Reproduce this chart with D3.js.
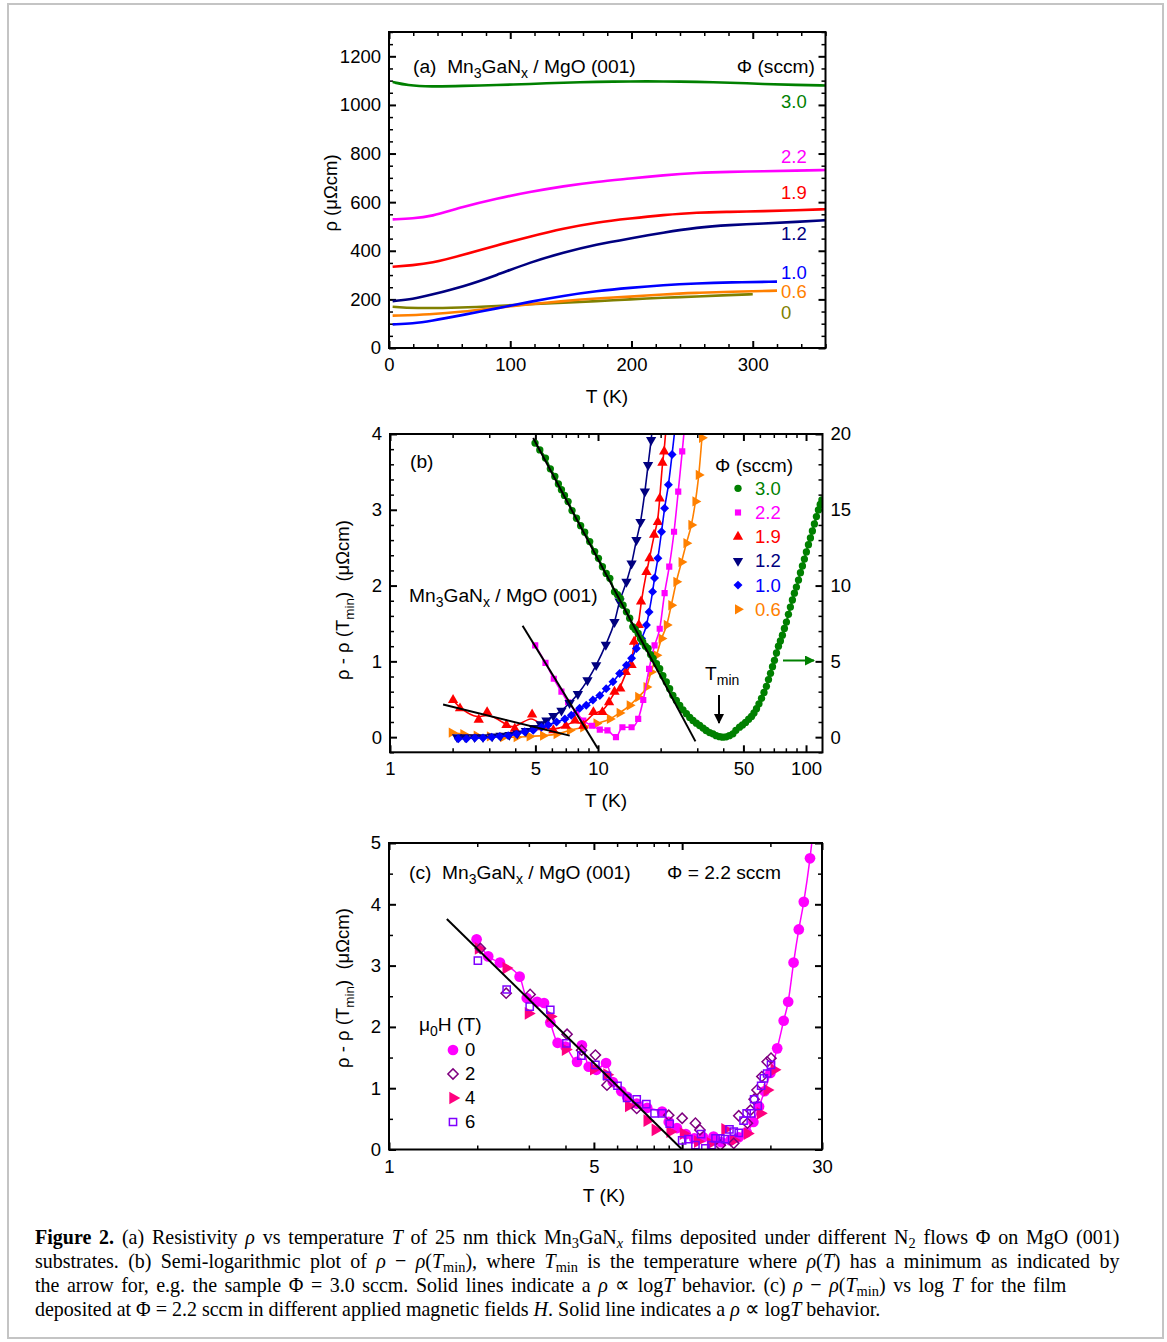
<!DOCTYPE html>
<html>
<head>
<meta charset="utf-8">
<script src="https://cdn.jsdelivr.net/npm/d3@7/dist/d3.min.js"></script>
<style>
html, body { margin: 0; padding: 0; background: #fff; }
#wrap { position: relative; width: 1167px; height: 1342px; overflow: hidden; background: #fff; }
#fig { position: absolute; left: 0; top: 0; }
#fig text { font-family: "Liberation Sans", Arial, Helvetica, sans-serif; fill: #000; }
.cap { position: absolute; left: 35px; width: 1166px; font-family: "Liberation Serif", "Times New Roman", serif;
       font-size: 21.5px; line-height: 24px; color: #000; text-align: justify; text-align-last: justify; white-space: nowrap;
       transform: scaleX(0.93); transform-origin: 0 0; }
.cap.short { width: 1109px; }
.cap.last { text-align-last: left; }
.cap .s { font-size: 0.72em; position: relative; top: 0.28em; line-height: 0; }
</style>
</head>
<body>
<div id="wrap">
<svg id="fig" width="1167" height="1342"></svg>
<div class="cap" style="top:1225px"><b>Figure 2.</b> (a) Resistivity <i>ρ</i> vs temperature <i>T</i> of 25 nm thick Mn<span class="s">3</span>GaN<span class="s"><i>x</i></span> films deposited under different N<span class="s">2</span> flows Φ on MgO (001)</div>
<div class="cap" style="top:1249px">substrates. (b) Semi-logarithmic plot of <i>ρ</i> − <i>ρ</i>(<i>T</i><span class="s">min</span>), where <i>T</i><span class="s">min</span> is the temperature where <i>ρ</i>(<i>T</i>) has a minimum as indicated by</div>
<div class="cap short" style="top:1273px">the arrow for, e.g. the sample Φ = 3.0 sccm. Solid lines indicate a <i>ρ</i> ∝ log<i>T</i> behavior. (c) <i>ρ</i> − <i>ρ</i>(<i>T</i><span class="s">min</span>) vs log <i>T</i> for the film</div>
<div class="cap last" style="top:1297px">deposited at Φ = 2.2 sccm in different applied magnetic fields <i>H</i>. Solid line indicates a <i>ρ</i> ∝ log<i>T</i> behavior.</div>
</div>
<script>
// ---------------- Panel (a): resistivity vs temperature ----------------
const fluxA   = ["3.0", "2.2", "1.9", "1.2", "1.0", "0.6", "0"];
const colorsA = ["#008000", "#ff00ff", "#ff0000", "#000080", "#0000ff", "#ff8000", "#808000"];

const tA30  = [3, 15, 34, 61, 89, 116, 144, 171, 199, 226, 254, 281, 309, 336, 360];
const rhoA30 = [1094, 1081, 1075, 1078, 1082, 1086, 1092, 1095, 1097, 1097, 1095, 1092, 1086, 1082, 1080];
const tA22  = [3, 20, 34, 61, 89, 116, 144, 171, 199, 226, 254, 281, 309, 336, 360];
const rhoA22 = [529, 533, 540, 581, 615, 642, 666, 684, 697, 711, 721, 725, 727, 730, 732];
const tA19  = [3, 20, 34, 61, 89, 116, 144, 171, 199, 226, 254, 281, 309, 336, 360];
const rhoA19 = [334, 341, 348, 382, 423, 458, 492, 517, 533, 547, 558, 560, 563, 567, 571];
const tA12  = [3, 20, 34, 61, 89, 116, 144, 171, 199, 226, 254, 281, 309, 336, 360];
const rhoA12 = [193, 201, 218, 252, 300, 352, 393, 426, 451, 475, 496, 506, 512, 519, 526];
const tA10  = [3, 20, 34, 61, 89, 116, 144, 171, 199, 226, 254, 281, 320];
const rhoA10 = [97, 101, 111, 136, 163, 190, 215, 234, 248, 259, 266, 270, 273];
const tA06  = [3, 34, 61, 89, 116, 144, 171, 199, 226, 254, 281, 320];
const rhoA06 = [133, 138, 149, 166, 180, 193, 204, 211, 221, 227, 231, 236];
const tA0   = [3, 20, 61, 89, 116, 144, 171, 199, 226, 254, 281, 300];
const rhoA0  = [170, 163, 166, 173, 180, 186, 193, 200, 207, 212, 218, 221];

const seriesA = [[tA30, rhoA30], [tA22, rhoA22], [tA19, rhoA19], [tA12, rhoA12], [tA10, rhoA10], [tA06, rhoA06], [tA0, rhoA0]];
const labelYA = [102, 157, 193, 234, 273, 292, 313];
const xTicksA = [0, 100, 200, 300];
const yTicksA = [0, 200, 400, 600, 800, 1000, 1200];

// ---------------- Panel (b): rho - rho(Tmin), semi-log ----------------
const fluxB   = ["3.0", "2.2", "1.9", "1.2", "1.0", "0.6"];
const colorsB = ["#008000", "#ff00ff", "#ff0000", "#000080", "#0000ff", "#ff8000"];

// 3.0 sccm is read on the right-hand axis
const tB30 = [4.98, 5.25, 5.59, 5.9, 6.2, 6.45, 6.67, 6.9, 7.18, 7.5, 7.88, 8.25, 8.63, 9.12, 9.64, 10.05, 10.5, 10.95, 11.4, 12.0,
              12.4, 12.8, 13.2, 13.7, 14.2, 14.7, 15.1, 15.6, 16.0, 16.4, 16.9, 17.4, 17.9, 18.4, 19.1, 19.8, 20.5, 21.3, 22.1, 22.9,
              23.8, 24.7, 25.6, 26.6, 27.6, 28.6, 29.7, 30.8, 32.0, 33.1, 34.4, 35.7, 37.0, 38.4, 39.8, 41.3, 42.8, 44.5, 46.0, 47.9,
              49.5, 51.2, 53.0, 54.7, 56.2, 57.8, 59.4, 61.1, 62.8, 64.5, 66.0, 67.5, 69.0, 70.5, 72.1, 73.7, 75.3, 77.0, 78.7, 80.5,
              82.3, 84.1, 86.0, 87.9, 89.9, 92.0, 94.0, 96.1, 98.2, 100.4, 102.7, 105, 107.3, 109.7, 112.2, 114.7, 117, 119.2];
const vB30 = [19.4, 18.95, 18.41, 17.7, 17.2, 16.7, 16.32, 15.95, 15.54, 14.95, 14.44, 13.95, 13.52, 12.9, 12.24, 11.8, 11.24, 10.8, 10.48, 9.59,
              9.4, 9.15, 8.7, 8.27, 7.85, 7.28, 7.1, 6.84, 6.5, 6.28, 6.0, 5.85, 5.45, 5.19, 4.85, 4.52, 4.05, 3.64, 3.2, 2.76,
              2.42, 2.1, 1.8, 1.55, 1.3, 1.1, 0.92, 0.77, 0.6, 0.44, 0.3, 0.22, 0.1, 0.03, 0.0, 0.02, 0.1, 0.22, 0.45, 0.66,
              0.8, 0.97, 1.18, 1.37, 1.6, 1.88, 2.2, 2.56, 2.95, 3.35, 3.8, 4.21, 4.65, 5.07, 5.55, 6.0, 6.35, 6.73, 7.17, 7.59,
              8.1, 8.58, 9.05, 9.5, 9.9, 10.36, 10.85, 11.29, 11.75, 12.22, 12.7, 13.14, 13.6, 14.07, 14.55, 14.99, 15.35, 15.65];
const tB22 = [4.99, 5.59, 6.13, 6.67, 7.18, 7.86, 8.5, 9.36, 10.2, 11.1, 12.2, 13.1, 14.5, 15.6, 16.5, 17.6, 18.7, 19.8, 20.9, 22.0, 23.2, 24.3, 25.4, 26.5];
const vB22 = [1.21, 0.98, 0.77, 0.6, 0.46, 0.33, 0.22, 0.15, 0.10, 0.09, 0.0, 0.13, 0.13, 0.24, 0.49, 0.9, 1.21, 1.43, 1.9, 2.25, 2.71, 3.24, 3.77, 4.3];
const tB19 = [2.01, 2.17, 2.67, 2.93, 3.63, 3.98, 4.82, 5.35, 6.1, 7.0, 7.75, 8.5, 9.5, 10.5, 11.3, 12.0, 12.8, 13.6, 14.5, 14.9,
              15.7, 16.1, 17.1, 17.7, 18.6, 19.4, 19.8, 20.4, 20.8, 21.4];
const vB19 = [0.49, 0.38, 0.23, 0.33, 0.16, 0.11, 0.30, 0.13, 0.09, 0.15, 0.22, 0.15, 0.33, 0.33, 0.46, 0.6, 0.64, 0.86, 0.95, 1.26,
              1.48, 1.79, 2.18, 2.36, 2.67, 2.84, 3.15, 3.62, 3.77, 4.2];
const tB12 = [2.1, 2.3, 2.55, 2.8, 3.1, 3.4, 3.75, 4.1, 4.5, 4.9, 5.3, 5.65, 6.1, 6.67, 7.3, 8.0, 8.9, 9.8, 10.9, 12.0,
              12.7, 13.7, 14.5, 15.3, 16.0, 16.8, 17.4, 18.0, 18.6];
const vB12 = [0.0, 0.0, 0.0, 0.0, 0.01, 0.02, 0.03, 0.05, 0.08, 0.12, 0.17, 0.22, 0.28, 0.35, 0.45, 0.57, 0.75, 0.95, 1.22, 1.52,
              1.79, 2.05, 2.29, 2.6, 2.84, 3.24, 3.59, 3.92, 4.3];
const tB10 = [2.13, 2.33, 2.56, 2.80, 3.08, 3.37, 3.70, 4.06, 4.44, 4.88, 5.35, 5.76, 6.32, 6.93, 7.44, 8.16, 8.78, 9.45, 10.2, 10.95,
              11.8, 12.7, 13.7, 14.5, 15.3, 16.2, 17.1, 17.6, 18.3, 18.7, 19.4, 20.2, 20.9, 21.8, 22.7, 23.5];
const vB10 = [-0.02, -0.02, -0.01, -0.01, 0.0, 0.01, 0.02, 0.04, 0.07, 0.09, 0.13, 0.16, 0.2, 0.24, 0.29, 0.38, 0.42, 0.49, 0.55, 0.64,
              0.73, 0.84, 0.95, 1.04, 1.17, 1.3, 1.48, 1.65, 1.92, 2.1, 2.36, 2.71, 3.02, 3.33, 3.73, 4.1];
const tB06 = [1.98, 2.25, 2.61, 3.02, 3.5, 4.06, 4.69, 5.44, 6.32, 7.32, 8.49, 9.83, 11.4, 12.7, 14.2, 15.6, 17.1, 18.0, 19.1, 20.2,
              21.4, 22.5, 23.8, 25.2, 26.6, 28.1, 29.4, 30.5, 31.6];
const vB06 = [0.06, 0.04, 0.02, 0.01, 0.0, 0.0, 0.01, 0.02, 0.04, 0.09, 0.13, 0.18, 0.24, 0.32, 0.42, 0.53, 0.66, 0.86, 1.08, 1.3,
              1.48, 1.74, 2.05, 2.31, 2.56, 2.8, 3.11, 3.46, 3.95];

// log T fits: [T1, T2], [v1, v2]
const fitB19 = [[1.80, 7.31], [0.43, 0.02]];
const fitB22 = [[4.34, 9.99], [1.47, -0.153]];
const fitB30 = [[4.88, 29.4], [19.73, -0.28]];   // right-hand axis units

const xTicksB = [1, 5, 10, 50, 100];
const xMinorB = [2, 3, 4, 6, 7, 8, 9, 20, 30, 40, 60, 70, 80, 90];
const yTicksB = [0, 1, 2, 3, 4];
const yTicksB2 = [0, 5, 10, 15, 20];

// ---------------- Panel (c): field dependence, 2.2 sccm ----------------
const fieldsC = ["0", "2", "4", "6"];
const tC0 = [1.99, 2.18, 2.39, 2.79, 2.95, 3.2, 3.38, 3.55, 3.76, 4.0, 4.38, 4.55, 4.8, 5.1, 5.5, 5.8, 6.2, 6.49, 7.0, 7.6,
             8.54, 9.0, 9.6, 10.3, 11.0, 11.8, 12.8, 13.6, 14.6, 15.6, 16.6, 17.5, 18.3, 19.1, 20.0, 21.1, 22.2, 23.0, 24.0, 25.0,
             26.0, 27.3, 28.3];
const vC0 = [3.43, 3.15, 3.05, 2.82, 2.47, 2.41, 2.39, 2.07, 1.74, 1.68, 1.43, 1.7, 1.35, 1.3, 1.41, 1.1, 0.95, 0.86, 0.75, 0.68,
             0.62, 0.45, 0.35, 0.25, 0.18, 0.2, 0.21, 0.12, 0.15, 0.2, 0.28, 0.45, 0.7, 0.95, 1.25, 1.65, 2.1, 2.41, 3.05, 3.59,
             4.04, 4.75, 5.4];
const tC2 = [2.05, 2.51, 3.03, 4.05, 4.54, 5.06, 5.54, 7.0, 9.0, 10.0, 11.1, 11.5, 13.5, 15.0, 15.6, 16.7, 17.1, 17.6, 18.0, 18.7, 19.5, 20.1];
const vC2 = [3.28, 2.55, 2.53, 1.88, 1.62, 1.54, 1.05, 0.67, 0.56, 0.51, 0.43, 0.32, 0.07, 0.1, 0.55, 0.43, 0.64, 0.82, 0.97, 1.19, 1.43, 1.49];
const tC4 = [2.02, 2.51, 2.99, 3.55, 4.0, 4.99, 5.54, 6.57, 7.6, 8.1, 9.1, 10.1, 11.3, 12.5, 14.0, 15.0, 16.7, 18.5, 19.5, 20.6];
const vC4 = [3.28, 2.96, 2.22, 2.17, 1.63, 1.31, 1.22, 0.71, 0.47, 0.32, 0.29, 0.26, 0.13, 0.1, 0.33, 0.15, 0.26, 0.59, 0.97, 1.3];
const tC6 = [2.01, 2.52, 3.02, 3.55, 4.03, 4.53, 5.06, 5.54, 6.02, 6.49, 7.0, 7.55, 8.05, 8.55, 9.07, 10.0, 10.5, 11.1, 11.6, 12.0,
             12.6, 13.0, 13.5, 14.0, 14.5, 15.0, 15.6, 16.2, 16.6, 17.2, 17.6, 18.1, 18.6, 19.0, 19.5, 20.1];
const vC6 = [3.08, 2.61, 2.33, 2.28, 1.73, 1.53, 1.38, 1.2, 1.04, 0.84, 0.82, 0.74, 0.59, 0.59, 0.42, 0.15, 0.17, 0.07, 0.25, 0.02,
             0.07, 0.18, 0.18, 0.17, 0.33, 0.29, 0.27, 0.47, 0.59, 0.59, 0.82, 0.71, 1.04, 1.16, 1.24, 1.38];
const fitC = [[1.575, 10.0], [3.76, 0.0]];
const xTicksC = [1, 5, 10, 30];
const xMinorC = [2, 3, 4, 6, 7, 8, 9, 20];
const yTicksC = [0, 1, 2, 3, 4, 5];

// ====================================================================
const svg = d3.select("#fig");
const FS = 18.5;     // tick labels
const FA = 19.2;     // annotations

// light figure frame
svg.append("rect").attr("x", 8).attr("y", 4).attr("width", 1155).attr("height", 1334)
  .attr("fill", "none").attr("stroke", "#c4c4c4").attr("stroke-width", 2);

const zip = (a, b) => a.map((d, i) => [d, b[i]]);

// inward tick set on one side of a panel
function tickSide(g, scale, orient, pos, values, len, withLabels, fmt, pad) {
  const gen = { bottom: d3.axisBottom, top: d3.axisTop, left: d3.axisLeft, right: d3.axisRight }[orient];
  const ax = gen(scale).tickValues(values).tickSizeInner(-len).tickSizeOuter(0).tickPadding(pad || 9)
    .tickFormat(withLabels ? (fmt || d3.format("d")) : "");
  const vert = orient === "left" || orient === "right";
  const gg = g.append("g").attr("transform", vert ? `translate(${pos},0)` : `translate(0,${pos})`).call(ax);
  gg.select(".domain").remove();
  gg.selectAll("line").attr("stroke", "#000").attr("stroke-width", len > 5 ? 2 : 1.5);
  gg.selectAll("text").attr("font-size", FS).attr("fill", "#000")
    .attr("font-family", '"Liberation Sans", Arial, sans-serif');
  return gg;
}

function box(g, x0, x1, y0, y1) {
  g.append("rect").attr("x", x0).attr("y", y0).attr("width", x1 - x0).attr("height", y1 - y0)
    .attr("fill", "none").attr("stroke", "#000").attr("stroke-width", 2);
}

// "Mn3GaNx / MgO (001)" with subscripts
function compound(g, x, y, prefix) {
  const t = g.append("text").attr("x", x).attr("y", y).attr("font-size", FA).style("white-space", "pre");
  if (prefix) t.append("tspan").text(prefix);
  t.append("tspan").text("Mn");
  t.append("tspan").attr("dy", 5).attr("font-size", 14).text("3");
  t.append("tspan").attr("dy", -5).text("GaN");
  t.append("tspan").attr("dy", 5).attr("font-size", 14).text("x");
  t.append("tspan").attr("dy", -5).text(" / MgO (001)");
  return t;
}

function deltaTitle(g, x, y) {
  const t = g.append("text").attr("transform", `translate(${x},${y}) rotate(-90)`)
    .attr("text-anchor", "middle").attr("font-size", FS).style("white-space", "pre");
  t.append("tspan").text("ρ - ρ (T");
  t.append("tspan").attr("dy", 5).attr("font-size", 13.5).text("min");
  t.append("tspan").attr("dy", -5).text(")  (μΩcm)");
}

// ---------------- (a) ----------------
{
  const g = svg.append("g");
  const X0 = 389, X1 = 825.5, Y0 = 32, Y1 = 348;
  const x = d3.scaleLinear().domain([0, 360]).range([X0, X1]);
  const y = d3.scaleLinear().domain([0, 1300]).range([Y1, Y0]);
  const xMinor = d3.range(0, 361, 20).filter(v => v % 100 !== 0);
  const yMinor = d3.range(0, 1301, 50).filter(v => v % 200 !== 0);

  tickSide(g, x, "bottom", Y1, xTicksA, 7, true, d3.format("d"), 10);
  tickSide(g, x, "bottom", Y1, xMinor, 4, false);
  tickSide(g, x, "top", Y0, xTicksA, 7, false);
  tickSide(g, x, "top", Y0, xMinor, 4, false);
  tickSide(g, y, "left", X0, yTicksA, 7, true, d3.format("d"), 8);
  tickSide(g, y, "left", X0, yMinor, 4, false);
  tickSide(g, y, "right", X1, yTicksA, 7, false);
  tickSide(g, y, "right", X1, yMinor, 4, false);

  const line = d3.line().x(d => x(d[0])).y(d => y(d[1])).curve(d3.curveBasis);
  seriesA.slice().reverse().forEach((s, k) => {
    const i = seriesA.length - 1 - k;
    g.append("path").attr("d", line(zip(s[0], s[1]))).attr("fill", "none")
      .attr("stroke", colorsA[i]).attr("stroke-width", 2.6);
  });
  box(g, X0, X1, Y0, Y1);

  compound(g, 413, 73, "(a)  ");
  g.append("text").attr("x", 815).attr("y", 73).attr("text-anchor", "end").attr("font-size", FA).text("Φ (sccm)");
  fluxA.forEach((f, i) => {
    g.append("text").attr("x", 781).attr("y", labelYA[i]).attr("dy", "0.35em")
      .attr("font-size", FS).style("fill", colorsA[i]).text(f);
  });
  g.append("text").attr("transform", "translate(337,193) rotate(-90)").attr("text-anchor", "middle")
    .attr("font-size", FS).text("ρ (μΩcm)");
  g.append("text").attr("x", 607).attr("y", 403).attr("text-anchor", "middle").attr("font-size", FA).text("T (K)");
}

// symbol factory
function sym(type, size) { return d3.symbol().type(type).size(size)(); }
const markerB = [
  { d: sym(d3.symbolCircle, 42), rot: 0 },
  { d: sym(d3.symbolSquare, 38), rot: 0 },
  { d: sym(d3.symbolTriangle, 46), rot: 0 },
  { d: sym(d3.symbolTriangle, 46), rot: 180 },
  { d: sym(d3.symbolSquare, 40), rot: 45 },
  { d: sym(d3.symbolTriangle, 46), rot: 90 }
];

// ---------------- (b) ----------------
{
  const g = svg.append("g");
  const X0 = 390, X1 = 822.5, Y0 = 434, Y1 = 752.3;
  const x = d3.scaleLog().domain([1, 120]).range([X0, X1]);
  const y = d3.scaleLinear().domain([-0.2, 4]).range([Y1, Y0]);
  const y2 = d3.scaleLinear().domain([-1, 20]).range([Y1, Y0]);
  const yMinor = d3.range(-0.2, 4.001, 0.2).map(v => +v.toFixed(1)).filter(v => Math.abs(v - Math.round(v)) > 1e-6);
  const y2Minor = d3.range(-1, 21, 1).filter(v => v % 5 !== 0);

  tickSide(g, x, "bottom", Y1, xTicksB, 7, true, d3.format("d"), 10);
  tickSide(g, x, "bottom", Y1, xMinorB, 4, false);
  tickSide(g, x, "top", Y0, xTicksB, 7, false);
  tickSide(g, x, "top", Y0, xMinorB, 4, false);
  tickSide(g, y, "left", X0, yTicksB, 7, true, d3.format("d"), 8);
  tickSide(g, y, "left", X0, yMinor, 4, false);
  tickSide(g, y2, "right", X1, yTicksB2, 7, true, d3.format("d"), 8);
  tickSide(g, y2, "right", X1, y2Minor, 4, false);

  svg.append("clipPath").attr("id", "clipB").append("rect")
    .attr("x", X0).attr("y", Y0).attr("width", X1 - X0).attr("height", Y1 - Y0);
  const p = g.append("g").attr("clip-path", "url(#clipB)");

  const data = [
    { t: tB30, v: vB30, i: 0, ys: y2 },
    { t: tB22, v: vB22, i: 1, ys: y },
    { t: tB19, v: vB19, i: 2, ys: y },
    { t: tB12, v: vB12, i: 3, ys: y },
    { t: tB10, v: vB10, i: 4, ys: y },
    { t: tB06, v: vB06, i: 5, ys: y }
  ];
  const order = [5, 1, 2, 3, 4, 0];
  order.forEach(k => {
    const s = data[k];
    const pts = zip(s.t, s.v);
    const line = d3.line().x(d => x(d[0])).y(d => s.ys(d[1]))
      .curve(s.i === 2 ? d3.curveBasis : d3.curveMonotoneX);
    p.append("path").attr("d", line(pts)).attr("fill", "none")
      .attr("stroke", colorsB[s.i]).attr("stroke-width", s.i === 0 ? 2.2 : 1.6);
    p.selectAll(null).data(pts).enter().append("path")
      .attr("d", markerB[s.i].d)
      .attr("transform", d => `translate(${x(d[0])},${s.ys(d[1])}) rotate(${markerB[s.i].rot})`)
      .attr("fill", colorsB[s.i]);
  });

  const fline = d3.line().x(d => x(d[0]));
  [[fitB19, y], [fitB22, y], [fitB30, y2]].forEach(([f, ys]) => {
    p.append("path").attr("d", fline.y(d => ys(d[1]))(zip(f[0], f[1])))
      .attr("stroke", "#000").attr("stroke-width", 2).attr("fill", "none");
  });
  box(g, X0, X1, Y0, Y1);

  g.append("text").attr("x", 410).attr("y", 468).attr("font-size", FA).text("(b)");
  compound(g, 409, 602, "");

  // legend
  g.append("text").attr("x", 715).attr("y", 472).attr("font-size", FA).text("Φ (sccm)");
  fluxB.forEach((f, i) => {
    const yy = 488.3 + i * 24.2;
    g.append("path").attr("d", markerB[i].d)
      .attr("transform", `translate(738,${yy}) rotate(${markerB[i].rot})`).attr("fill", colorsB[i]);
    g.append("text").attr("x", 755).attr("y", yy).attr("dy", "0.35em").attr("font-size", FS)
      .style("fill", colorsB[i]).text(f);
  });

  // T_min marker
  const tm = g.append("text").attr("x", 705).attr("y", 680).attr("font-size", FA);
  tm.append("tspan").text("T");
  tm.append("tspan").attr("dy", 5).attr("font-size", 14).text("min");
  svg.append("defs").html(
    '<marker id="ahK" viewBox="0 0 10 10" refX="9" refY="5" markerWidth="5" markerHeight="5" orient="auto">' +
    '<path d="M0,0 L10,5 L0,10 z" fill="#000"/></marker>' +
    '<marker id="ahG" viewBox="0 0 10 10" refX="9" refY="5" markerWidth="5" markerHeight="5" orient="auto">' +
    '<path d="M0,0 L10,5 L0,10 z" fill="#008000"/></marker>');
  g.append("line").attr("x1", 719).attr("x2", 719).attr("y1", 695).attr("y2", 723)
    .attr("stroke", "#000").attr("stroke-width", 2).attr("marker-end", "url(#ahK)");
  g.append("line").attr("x1", 783).attr("x2", 814).attr("y1", 660.5).attr("y2", 660.5)
    .attr("stroke", "#008000").attr("stroke-width", 2).attr("marker-end", "url(#ahG)");

  deltaTitle(g, 349, 600);
  g.append("text").attr("x", 606).attr("y", 807).attr("text-anchor", "middle").attr("font-size", FA).text("T (K)");
}

// ---------------- (c) ----------------
{
  const g = svg.append("g");
  const X0 = 389, X1 = 822, Y0 = 843, Y1 = 1149.5;
  const x = d3.scaleLog().domain([1, 30]).range([X0, X1]);
  const y = d3.scaleLinear().domain([0, 5]).range([Y1, Y0]);
  const yMinor = d3.range(0.5, 5, 1);

  tickSide(g, x, "bottom", Y1, xTicksC, 7, true, d3.format("d"), 10);
  tickSide(g, x, "bottom", Y1, xMinorC, 4, false);
  tickSide(g, x, "top", Y0, xTicksC, 7, false);
  tickSide(g, x, "top", Y0, xMinorC, 4, false);
  tickSide(g, y, "left", X0, yTicksC, 7, true, d3.format("d"), 8);
  tickSide(g, y, "left", X0, yMinor, 4, false);
  tickSide(g, y, "right", X1, yTicksC, 7, false);
  tickSide(g, y, "right", X1, yMinor, 4, false);

  svg.append("clipPath").attr("id", "clipC").append("rect")
    .attr("x", X0).attr("y", Y0).attr("width", X1 - X0).attr("height", Y1 - Y0);
  const p = g.append("g").attr("clip-path", "url(#clipC)");

  const colC = ["#ff00ff", "#800080", "#ff0080", "#8000ff"];
  const mk = [
    { d: sym(d3.symbolCircle, 90), rot: 0, fill: true },
    { d: sym(d3.symbolSquare, 52), rot: 45, fill: false },
    { d: sym(d3.symbolTriangle, 70), rot: 90, fill: true },
    { d: sym(d3.symbolSquare, 52), rot: 0, fill: false }
  ];
  const sets = [zip(tC0, vC0), zip(tC2, vC2), zip(tC4, vC4), zip(tC6, vC6)];

  p.append("path").attr("d", d3.line().x(d => x(d[0])).y(d => y(d[1])).curve(d3.curveMonotoneX)(sets[0]))
    .attr("fill", "none").attr("stroke", colC[0]).attr("stroke-width", 1.5);

  const drawMarks = (sel, i, pts) => {
    sel.selectAll(null).data(pts).enter().append("path")
      .attr("d", mk[i].d)
      .attr("transform", d => `translate(${x(d[0])},${y(d[1])}) rotate(${mk[i].rot})`)
      .attr("fill", mk[i].fill ? colC[i] : "#fff")
      .attr("fill-opacity", mk[i].fill ? 1 : 0)
      .attr("stroke", mk[i].fill ? "none" : colC[i]).attr("stroke-width", 1.5);
  };
  [0, 2, 1, 3].forEach(i => drawMarks(p, i, sets[i]));

  p.append("path").attr("d", d3.line().x(d => x(d[0])).y(d => y(d[1]))(zip(fitC[0], fitC[1])))
    .attr("stroke", "#000").attr("stroke-width", 2).attr("fill", "none");
  box(g, X0, X1, Y0, Y1);

  compound(g, 409, 879, "(c)  ");
  g.append("text").attr("x", 667).attr("y", 879).attr("font-size", FA).text("Φ = 2.2 sccm");

  const lt = g.append("text").attr("x", 419).attr("y", 1031).attr("font-size", FA);
  lt.append("tspan").text("μ");
  lt.append("tspan").attr("dy", 5).attr("font-size", 14).text("0");
  lt.append("tspan").attr("dy", -5).text("H (T)");
  fieldsC.forEach((f, i) => {
    const yy = 1050 + i * 24;
    g.append("path").attr("d", mk[i].d)
      .attr("transform", `translate(453,${yy}) rotate(${mk[i].rot})`)
      .attr("fill", mk[i].fill ? colC[i] : "none")
      .attr("stroke", mk[i].fill ? "none" : colC[i]).attr("stroke-width", 1.5);
    g.append("text").attr("x", 465).attr("y", yy).attr("dy", "0.35em").attr("font-size", FS).text(f);
  });

  deltaTitle(g, 349, 988);
  g.append("text").attr("x", 604).attr("y", 1202).attr("text-anchor", "middle").attr("font-size", FA).text("T (K)");
}
</script>
</body>
</html>
